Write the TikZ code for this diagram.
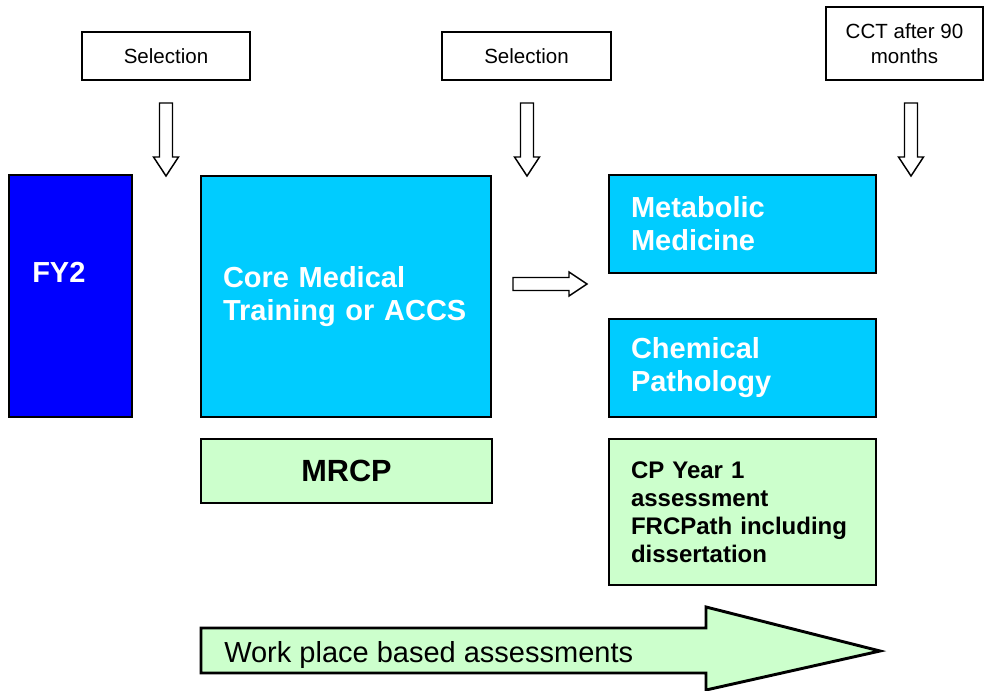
\documentclass[tikz,border=0pt]{standalone}
\usepackage{fontspec}
\setmainfont{Liberation Sans}
\usetikzlibrary{positioning}

\definecolor{fyblue}{RGB}{0,0,255}
\definecolor{stblue}{RGB}{0,204,255}
\definecolor{palegreen}{RGB}{204,255,204}

\begin{document}
\begin{tikzpicture}[x=0.75pt, y=-0.75pt,
  selbox/.style={draw, line width=1.1pt, inner sep=0, align=center, font=\fontsize{15.4}{18.75}\selectfont},
  bigbox/.style={draw, line width=2.2pt, inner ysep=0, inner xsep=16.5pt, align=left, text=white, fill=stblue, font=\bfseries\fontsize{21.75}{24.75}\selectfont},
  greenbox/.style={draw, line width=2.2pt, inner ysep=0, inner xsep=16.5pt, fill=palegreen},
  hollow/.style={draw, line width=1.1pt, fill=white, line join=miter}]

	\def\pu{0.75pt};

	\useasboundingbox (0,0) rectangle (984,691);

	% top boxes
	\foreach \x/\w/\name in {166/168/sel1, 526.5/169/sel2} {
		\node[selbox, minimum width=\w*\pu, minimum height=48*\pu] (\name) at (\x,56) {Selection};
	}
	\node[selbox, minimum width=157*\pu, minimum height=73*\pu] (cct) at (904.5,43.5) {CCT after 90\\months};

	% down arrows
	\foreach \x in {166,527,911} {
		\draw[hollow] (\x-6.5,103) -- (\x+6.5,103) -- (\x+6.5,157) -- (\x+12.5,157) -- (\x,176) -- (\x-12.5,157) -- (\x-6.5,157) -- cycle;
	}

	% FY2
	\node[bigbox, fill=fyblue, minimum width=123*\pu, minimum height=242*\pu] (fy2) at (70.5,296) {};
	\node[anchor=base west, inner sep=0, text=white, font=\bfseries\fontsize{21.75}{24.75}\selectfont] (fy2txt) at (32,283) {FY2};

	% core training
	\node[bigbox, text width=184.5pt, minimum height=241*\pu] (core) at (346,296.5) {Core Medical\\Training or ACCS};
	\node[greenbox, minimum width=291*\pu, minimum height=64*\pu, font=\bfseries\fontsize{23}{26}\selectfont] (mrcp) at (346.5,471) {MRCP};

	\draw[hollow] (513,277.5) -- (569,277.5) -- (569,272) -- (587,284) -- (569,296) -- (569,290.5) -- (513,290.5) -- cycle;

	% specialty
	\foreach \y/\name/\txt in {224/metab/{Metabolic\\Medicine}, 368/chem/{Chemical\\Pathology}} {
		\node[bigbox, text width=167.25pt, minimum height=98*\pu] (\name) at (742.5,\y) {\txt};
	}
	\node[greenbox, align=left, text width=167.25pt, minimum height=146*\pu, font=\bfseries\fontsize{18}{21}\selectfont] (cp) at (742.5,512) {CP Year 1\\assessment\\FRCPath including\\dissertation};

	% assessments
	\draw[line width=2.2pt, fill=palegreen, line join=miter] (201,628) -- (706,628) -- (706,607) -- (880,651) -- (706,690) -- (706,673) -- (201,673) -- cycle;
	\node[anchor=base west, inner sep=0, font=\fontsize{21.75}{24.75}\selectfont] (wpba) at (224,662) {Work place based assessments};

\end{tikzpicture}
\end{document}
